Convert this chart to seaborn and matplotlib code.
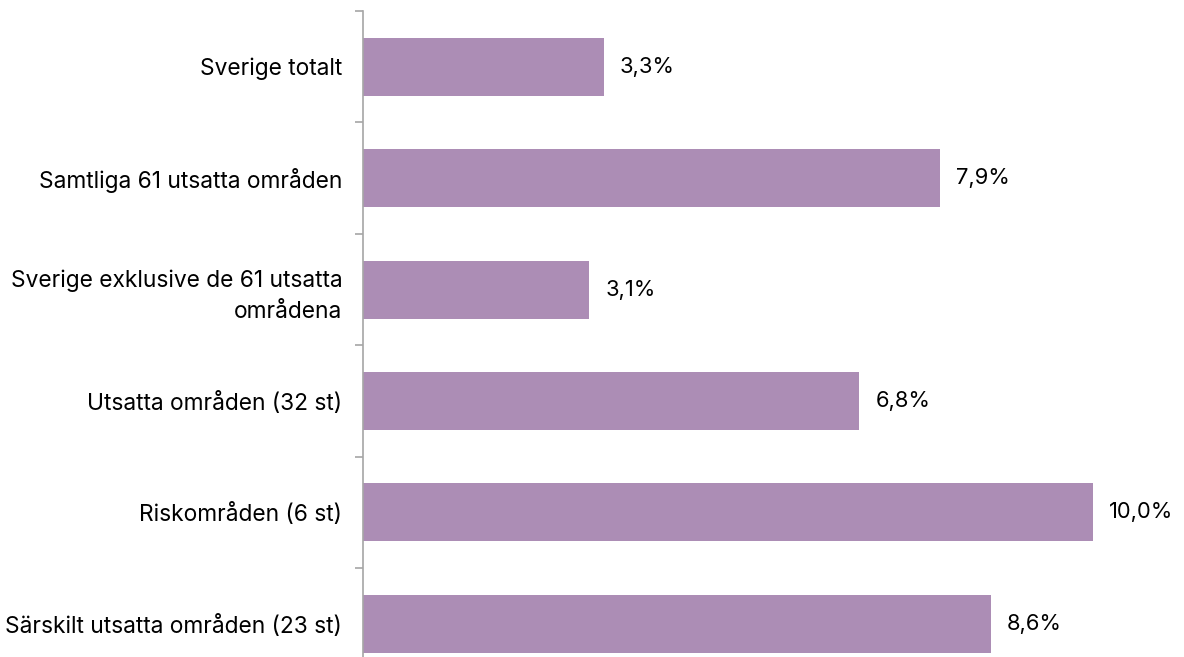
import matplotlib
matplotlib.use("Agg")
import matplotlib.pyplot as plt
from matplotlib.ticker import FixedLocator
import seaborn as sns
import pandas as pd

categories = [
    "Sverige totalt",
    "Samtliga 61 utsatta områden",
    "Sverige exklusive de 61 utsatta\nområdena",
    "Utsatta områden (32 st)",
    "Riskområden (6 st)",
    "Särskilt utsatta områden (23 st)",
]
values = [3.3, 7.9, 3.1, 6.8, 10.0, 8.6]
value_labels = ["3,3%", "7,9%", "3,1%", "6,8%", "10,0%", "8,6%"]

sns.set_theme(style="white")
plt.rcParams["font.family"] = ["Inter", "DejaVu Sans"]

df = pd.DataFrame({"kategori": categories, "andel": values})

fig = plt.figure(figsize=(11.84, 6.57), dpi=100)
W, H = 1184, 657
left, right, top, bottom = 363, 1166, 11, 679.5
ax = fig.add_axes([left / W, (H - bottom) / H, (right - left) / W, (bottom - top) / H])

sns.barplot(data=df, y="kategori", x="andel", orient="h", color="#AC8DB5",
            saturation=1, width=0.52, linewidth=0, ax=ax)

ax.set_xlim(0, 11)
ax.set_ylim(len(categories) - 0.5, -0.5)
ax.set_xlabel("")
ax.set_ylabel("")
ax.set_xticks([])

for side in ["top", "right", "bottom"]:
    ax.spines[side].set_visible(False)
ax.spines["left"].set_color("#A6A6A6")
ax.spines["left"].set_linewidth(1.2)

# category labels on major ticks, boundary marks on minor ticks
ax.tick_params(axis="y", which="major", length=0, pad=15, labelsize=16.4, labelcolor="#000000")
for t in ax.get_yticklabels():
    t.set_linespacing(1.5)
    t.set_horizontalalignment("right")
ax.yaxis.set_minor_locator(FixedLocator([i - 0.5 for i in range(len(categories) + 1)]))
ax.tick_params(axis="y", which="minor", left=True, length=6, width=1.2, color="#A6A6A6", direction="out")

for i, (v, lab) in enumerate(zip(values, value_labels)):
    ax.annotate(lab, xy=(v, i), xytext=(16, 0), textcoords="offset pixels",
                va="center", ha="left", fontsize=15.8, color="#000000")

fig.savefig("out.png", dpi=100)
